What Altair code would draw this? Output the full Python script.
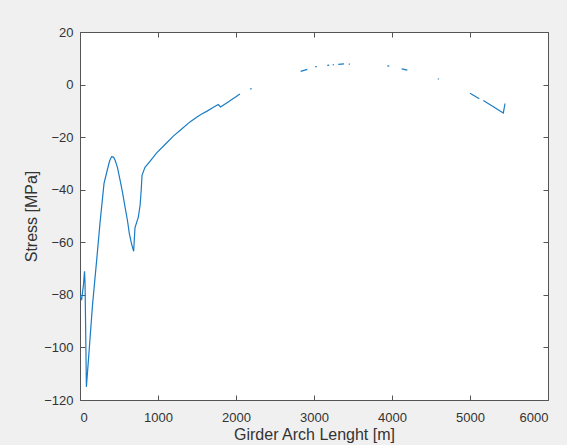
import altair as alt
import pandas as pd

# ---- data ----
seg_id = [1] * 50 + [2, 2] + [3, 3] + [4, 4] + [5, 5] + [6, 6] + [7, 7] + [8, 8] + [9, 9] + [10, 10] + [11, 11] + [12, 12] + [13, 13, 13, 13]

length_m = [
    0, 20, 45, 58, 65, 82, 120, 160, 214, 256,
    308, 350, 380, 406, 430, 449, 480, 513, 545, 577,
    610, 632, 660, 688, 700, 705, 725, 747, 770, 785,
    795, 833, 897, 983, 1100, 1200, 1300, 1410, 1500, 1560,
    1624, 1700, 1773, 1803, 1850, 1900, 1950, 2000, 2030, 2051,
    2180, 2200,
    2829, 2914,
    3015, 3035,
    3170, 3195,
    3240, 3255,
    3311, 3385,
    3445, 3460,
    3940, 3965,
    4124, 4197,
    4588, 4600,
    5000, 5119,
    5171, 5300, 5427, 5449,
]

stress_mpa = [
    -80, -82, -76, -71, -76, -115, -100, -84, -66.7, -52.8,
    -37.6, -32.5, -29, -27.4, -27.6, -28.7, -31.5, -36.3, -41, -46.5,
    -52, -56.6, -60.5, -63.4, -57, -54.5, -52.5, -50.5, -46, -40,
    -34.5, -31.5, -29.2, -26, -22.5, -19.5, -17, -14.2, -12.3, -11.2,
    -10.2, -8.8, -7.6, -8.5, -7.6, -6.6, -5.6, -4.6, -4.0, -3.6,
    -1.8, -1.5,
    5.0, 5.8,
    6.7, 6.9,
    7.3, 7.4,
    7.5, 7.6,
    7.7, 7.9,
    7.8, 7.8,
    7.1, 7.0,
    6.0, 5.5,
    2.2, 2.0,
    -3.3, -5.4,
    -6.1, -8.4, -10.8, -7.2,
]

x_ticks = [0, 1000, 2000, 3000, 4000, 5000, 6000]
y_ticks = [-120, -100, -80, -60, -40, -20, 0, 20]

df = pd.DataFrame({"seg": seg_id, "x": length_m, "y": stress_mpa})

FONT = "Liberation Sans"
AXC = "#555555"
TXT = "#333333"

x_scale = alt.Scale(domain=[0, 6000], nice=False, zero=False)
y_scale = alt.Scale(domain=[-120, 20], nice=False, zero=False)

base = alt.Chart(df)

line = base.mark_line(color="#1a7cc4", strokeWidth=1.2, clip=True).encode(
    x=alt.X(
        "x:Q",
        scale=x_scale,
        axis=alt.Axis(
            values=x_ticks, orient="bottom", offset=-5, tickSize=5, domain=False,
            grid=False, labelPadding=11, format="d",
            title="Girder Arch Lenght [m]", titlePadding=2,
        ),
    ),
    y=alt.Y(
        "y:Q",
        scale=y_scale,
        axis=alt.Axis(
            values=y_ticks, orient="left", offset=-5, tickSize=5, domain=False,
            grid=False, labelPadding=7, format="d",
            title="Stress [MPa]", titlePadding=4,
        ),
    ),
    detail="seg:N",
)

frame = base.mark_line(opacity=0).encode(
    x=alt.X(
        "x:Q",
        scale=x_scale,
        axis=alt.Axis(values=x_ticks, orient="top", offset=-5, tickSize=5,
                      domain=False, grid=False, labels=False, title=""),
    ),
    y=alt.Y(
        "y:Q",
        scale=y_scale,
        axis=alt.Axis(values=y_ticks, orient="right", offset=-5, tickSize=5,
                      domain=False, grid=False, labels=False, title=""),
    ),
    detail="seg:N",
)

chart = (
    alt.layer(line, frame)
    .resolve_axis(x="independent", y="independent")
    .properties(
        width=468,
        height=368,
        padding={"left": 80, "top": 32, "right": 19, "bottom": 45},
        autosize=alt.AutoSizeParams(type="none"),
    )
    .configure(background="#f0f0f0")
    .configure_view(fill="white", stroke=AXC, strokeWidth=1)
    .configure_axis(
        labelFont=FONT, labelFontSize=13, labelColor=TXT,
        titleFont=FONT, titleFontSize=16, titleColor=TXT, titleFontWeight="normal",
        tickColor=AXC, tickWidth=1,
    )
)

chart.save("out.html", embed_options={"renderer": "svg", "actions": False})
